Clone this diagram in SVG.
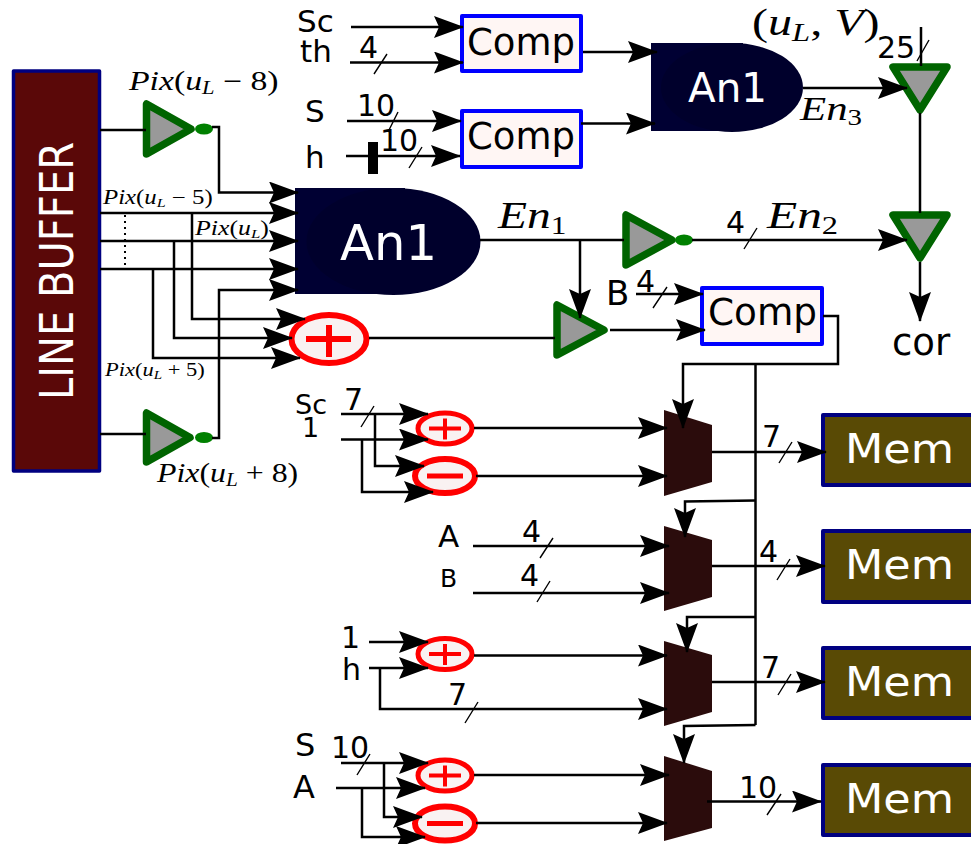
<svg xmlns="http://www.w3.org/2000/svg" width="971" height="844" viewBox="0 0 971 844">
<style>
.w{fill:none;stroke:#000;stroke-width:2.5}
.a{marker-end:url(#ah)}
.t{fill:none;stroke:#000;stroke-width:1.4}
.g{fill:#999;stroke:#006400;stroke-width:7.5;stroke-linejoin:round}
.b{fill:#008000}
.c{fill:#fff6f4;stroke:#00f;stroke-width:4;stroke-linejoin:round}
.ct{font:36.500px "DejaVu Sans",sans-serif;fill:#000}
.an{fill:#000033}
.ae{fill:#00002c}
.at{font-family:"DejaVu Sans",sans-serif;fill:#fff}
.add{fill:#f9f2f2;stroke:#f00}
.bar{fill:#f00}
.mux{fill:#2b0c0c}
.mem{fill:#594a05;stroke:#000080;stroke-width:4;stroke-linejoin:round}
.mt{font:40px "DejaVu Sans",sans-serif;fill:#fff}
.l{font-family:"DejaVu Sans",sans-serif;fill:#000}
.m{font-family:"Liberation Serif",serif;fill:#000}
.i{font-style:italic}
</style>
<defs>
<marker id="ah" markerUnits="userSpaceOnUse" markerWidth="34" markerHeight="26" refX="29" refY="11" orient="auto">
<path d="M0,0L30,11L0,22L5,11Z" fill="#000"/>
</marker>
</defs>

<g id="line-buffer">
<rect x="13.500" y="71" width="86" height="400" fill="#5a0808" stroke="#000080" stroke-width="3.500" stroke-linejoin="round"/>
<text transform="translate(73,400) rotate(-90)" font-family="DejaVu Sans, sans-serif" font-size="46" fill="#fff" textLength="258" lengthAdjust="spacingAndGlyphs">LINE BUFFER</text>
</g>

<g id="gate-pix-minus8"><path class="g" d="M146.500,104V154L191,129Z"/><ellipse class="b" cx="204" cy="129" rx="9" ry="5.500"/></g>
<g id="gate-pix-plus8"><path class="g" d="M146.500,413V462L190,437.500Z"/><ellipse class="b" cx="204" cy="437.500" rx="9" ry="5.500"/></g>
<g id="and-main"><rect class="an" x="295" y="188" width="110" height="106"/><ellipse class="ae" cx="393.500" cy="241.500" rx="87" ry="53.500"/><text class="at" x="340" y="260" font-size="50" textLength="97" lengthAdjust="spacingAndGlyphs">An1</text></g>
<g id="and-top"><rect class="an" x="651" y="43" width="92" height="88"/><ellipse class="ae" cx="732" cy="87.500" rx="71" ry="44.500"/><text class="at" x="688" y="102" font-size="41" textLength="79" lengthAdjust="spacingAndGlyphs">An1</text></g>
<g id="comp-1"><rect class="c" x="462" y="16" width="119" height="55"/><text class="ct" x="467" y="55" textLength="108" lengthAdjust="spacingAndGlyphs">Comp</text></g>
<g id="comp-2"><rect class="c" x="462" y="111" width="119" height="56"/><text class="ct" x="467" y="149" textLength="108" lengthAdjust="spacingAndGlyphs">Comp</text></g>
<g id="comp-3"><rect class="c" x="702" y="288" width="120" height="56"/><text class="ct" x="708" y="325" textLength="109" lengthAdjust="spacingAndGlyphs">Comp</text></g>
<g id="adder-main"><ellipse class="add" cx="329" cy="339" rx="37.500" ry="24" stroke-width="6"/><rect class="bar" x="306" y="336" width="45" height="6"/><rect class="bar" x="326" y="325" width="6" height="32"/></g>
<g id="gate-mid"><path class="g" d="M557,305V355L604,330Z"/></g>
<g id="gate-en2"><path class="g" d="M626,215V265L672,240Z"/><ellipse class="b" cx="684" cy="240" rx="9" ry="5.500"/></g>
<g id="gate-right-1"><path class="g" d="M893,67H947L920,110Z"/></g>
<g id="gate-right-2"><path class="g" d="M893,215H947L920,258Z"/></g>
<g id="add-1"><ellipse class="add" cx="445" cy="428.500" rx="27" ry="15.500" stroke-width="5"/><rect class="bar" x="429" y="426.500" width="32" height="4"/><rect class="bar" x="443" y="418.500" width="4" height="21"/></g>
<g id="sub-1"><ellipse class="add" cx="445" cy="476" rx="30" ry="17" stroke-width="6"/><rect class="bar" x="427" y="473.500" width="36" height="5"/></g>
<g id="add-2"><ellipse class="add" cx="445" cy="654" rx="27" ry="15.500" stroke-width="5"/><rect class="bar" x="429" y="652" width="32" height="4"/><rect class="bar" x="443" y="644" width="4" height="21"/></g>
<g id="add-3"><ellipse class="add" cx="445" cy="775.500" rx="27" ry="15.500" stroke-width="5"/><rect class="bar" x="429" y="773.500" width="32" height="4"/><rect class="bar" x="443" y="765.500" width="4" height="21"/></g>
<g id="sub-2"><ellipse class="add" cx="445" cy="823.500" rx="30" ry="17" stroke-width="6"/><rect class="bar" x="427" y="821" width="36" height="5"/></g>
<g id="mux-1"><path class="mux" d="M664,410L712,425V482L664,496Z"/></g>
<g id="mux-2"><path class="mux" d="M664,526L712,540V597L664,611Z"/></g>
<g id="mux-3"><path class="mux" d="M664,641L712,655V712L664,726Z"/></g>
<g id="mux-4"><path class="mux" d="M664,756L712,771V828L664,841Z"/></g>
<g id="mem-1"><rect class="mem" x="823" y="415" width="160" height="70"/><text class="mt" x="845" y="463" textLength="109" lengthAdjust="spacingAndGlyphs">Mem</text></g>
<g id="mem-2"><rect class="mem" x="823" y="531" width="160" height="71"/><text class="mt" x="845" y="579" textLength="109" lengthAdjust="spacingAndGlyphs">Mem</text></g>
<g id="mem-3"><rect class="mem" x="823" y="648" width="160" height="70"/><text class="mt" x="845" y="696" textLength="109" lengthAdjust="spacingAndGlyphs">Mem</text></g>
<g id="mem-4"><rect class="mem" x="823" y="765" width="160" height="70"/><text class="mt" x="845" y="813" textLength="109" lengthAdjust="spacingAndGlyphs">Mem</text></g>

<g id="connectors">
<path class="w a" d="M351,27H463"/>
<path class="w a" d="M350,62.500H463"/>
<path class="w a" d="M347,121H461"/>
<path class="w a" d="M346,156H460"/>
<rect x="368" y="142" width="10" height="32" fill="#000"/>
<path class="w a" d="M583,52H657"/>
<path class="w a" d="M581,123.500H655"/>
<path class="w a" d="M803,88H907"/>
<path class="w" d="M921,27V66"/>
<path class="w" d="M920,113V213"/>
<path class="w a" d="M920,262V321"/>
<path class="w" d="M100,130H146"/>
<path class="w a" d="M212,127H219V192.500H298"/>
<path class="w a" d="M100,213H298"/>
<path class="w a" d="M100,241H298"/>
<path class="w a" d="M100,269H298"/>
<path class="w a" d="M212,438H219V290H298"/>
<path class="w" d="M100,434H146"/>
<path stroke="#000" stroke-width="2" stroke-dasharray="2,4" fill="none" d="M125,215V268"/>
<path class="w a" d="M192,213V319H305"/>
<path class="w a" d="M174,241V338H292"/>
<path class="w a" d="M153,269V358H300"/>
<path class="w" d="M369,338H555"/>
<path class="w" d="M480,240H624"/>
<path class="w a" d="M580,240V318"/>
<path class="w a" d="M610,330H705"/>
<path class="w a" d="M636,294H703"/>
<path class="w a" d="M692,240H907"/>
<path class="w a" d="M823,316H838V364H683V428"/>
<path class="w" d="M755.500,364V725"/>
<path class="w a" d="M755.500,500.500L685,501.500V537"/>
<path class="w a" d="M755.500,617H687V652"/>
<path class="w a" d="M755.500,725L684,726V763"/>
<path class="w a" d="M341,414H428"/>
<path class="w a" d="M341,439.500H428"/>
<path class="w a" d="M375,414V466H424"/>
<path class="w a" d="M362,439.500V492H433"/>
<path class="w a" d="M474,428H667"/>
<path class="w a" d="M476,476H667"/>
<path class="w a" d="M473,546H669"/>
<path class="w a" d="M473,593H669"/>
<path class="w a" d="M369,642H428"/>
<path class="w a" d="M369,668H428"/>
<path class="w a" d="M380,668V709H667"/>
<path class="w a" d="M474,655.500H667"/>
<path class="w a" d="M341,763H428"/>
<path class="w a" d="M336,788H425"/>
<path class="w a" d="M384,763V817H422"/>
<path class="w a" d="M362,788V837H425"/>
<path class="w a" d="M474,775H669"/>
<path class="w a" d="M476,823H667"/>
<path class="w a" d="M712,452H826"/>
<path class="w a" d="M712,566H825"/>
<path class="w a" d="M712,682H825"/>
<path class="w a" d="M707,801.500H821"/>
<path class="t" d="M374,74L387,54M388,132L398,112M409,168L422,147M917,61L929,40M744,249L757,228M653,308L667,287M361,427L374,406M540,558L553,538M537,602L550,581M465,723L478,702M357,775L370,754M779,463L792,442M777,580L790,559M778,695L791,674M767,815L781,794"/>
</g>

<g id="labels">
<text class="l" x="297" y="32" font-size="31">Sc</text>
<text class="l" x="300" y="62" font-size="31">th</text>
<text class="l" x="305" y="122" font-size="31">S</text>
<text class="l" x="305" y="168" font-size="31">h</text>
<text class="l" x="359" y="58" font-size="30">4</text>
<text class="l" x="357" y="116" font-size="30">10</text>
<text class="l" x="380" y="151" font-size="30">10</text>
<text class="l" x="877" y="58" font-size="30">25</text>
<text class="l" x="726" y="233" font-size="30">4</text>
<text class="l" x="606" y="305" font-size="34">B</text>
<text class="l" x="636" y="292" font-size="30">4</text>
<text class="l" x="892" y="355" font-size="37">cor</text>
<text class="l" x="295" y="414" font-size="27">Sc</text>
<text class="l" x="302" y="437" font-size="27">1</text>
<text class="l" x="344" y="410" font-size="30">7</text>
<text class="l" x="438" y="547" font-size="31">A</text>
<text class="l" x="440" y="587" font-size="25">B</text>
<text class="l" x="522" y="542" font-size="30">4</text>
<text class="l" x="520" y="586" font-size="30">4</text>
<text class="l" x="341" y="648" font-size="30">1</text>
<text class="l" x="342" y="680" font-size="30">h</text>
<text class="l" x="448" y="705" font-size="30">7</text>
<text class="l" x="295" y="756" font-size="32">S</text>
<text class="l" x="293" y="798" font-size="32">A</text>
<text class="l" x="331" y="758" font-size="30">10</text>
<text class="l" x="762" y="447" font-size="30">7</text>
<text class="l" x="759" y="562" font-size="30">4</text>
<text class="l" x="761" y="678" font-size="30">7</text>
<text class="l" x="739" y="798" font-size="30">10</text>
<text class="m" transform="translate(129,90) scale(1.25,1)" font-size="27"><tspan class="i">Pix</tspan>(<tspan class="i">u</tspan><tspan class="i" font-size="18" dy="4">L</tspan><tspan dy="-4"> − 8)</tspan></text>
<text class="m" transform="translate(103,204) scale(1.24,1)" font-size="20"><tspan class="i">Pix</tspan>(<tspan class="i">u</tspan><tspan class="i" font-size="13" dy="3">L</tspan><tspan dy="-3"> − 5)</tspan></text>
<text class="m" transform="translate(195,235) scale(1.29,1)" font-size="20"><tspan class="i">Pix</tspan>(<tspan class="i">u</tspan><tspan class="i" font-size="13" dy="3">L</tspan><tspan dy="-3">)</tspan></text>
<text class="m" transform="translate(105,376) scale(1.25,1)" font-size="18"><tspan class="i">Pix</tspan>(<tspan class="i">u</tspan><tspan class="i" font-size="12" dy="3">L</tspan><tspan dy="-3"> + 5)</tspan></text>
<text class="m" transform="translate(157,482) scale(1.18,1)" font-size="27"><tspan class="i">Pix</tspan>(<tspan class="i">u</tspan><tspan class="i" font-size="18" dy="4">L</tspan><tspan dy="-4"> + 8)</tspan></text>
<text class="m i" transform="translate(498,228) scale(1.25,1)" font-size="38">En<tspan font-style="normal" font-size="25" dy="6">1</tspan></text>
<text class="m i" transform="translate(767,228) scale(1.3,1)" font-size="38">En<tspan font-style="normal" font-size="25" dy="6">2</tspan></text>
<text class="m i" transform="translate(800,120) scale(1.26,1)" font-size="34">En<tspan font-style="normal" font-size="23" dy="5">3</tspan></text>
<text class="m" transform="translate(752,35) scale(1.3,1)" font-size="37">(<tspan class="i">u</tspan><tspan class="i" font-size="25" dy="6">L</tspan><tspan dy="-6">, </tspan><tspan class="i">V</tspan>)</text>
</g>
</svg>
